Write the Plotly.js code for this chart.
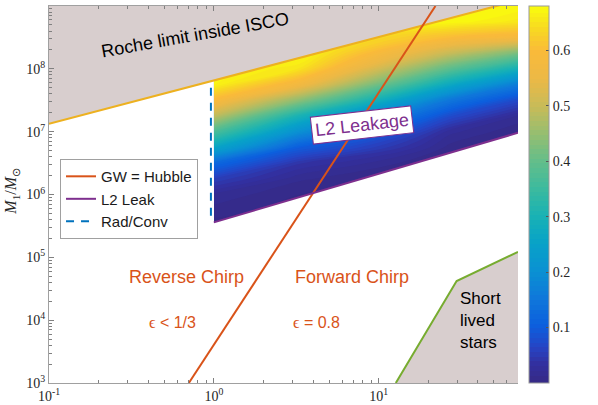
<!DOCTYPE html>
<html>
<head>
<meta charset="utf-8">
<script src="https://cdn.plot.ly/plotly-3.0.1.min.js"></script>
<style>
  html, body { margin: 0; padding: 0; background: #fff; }
  #chart { width: 598px; height: 405px; }
</style>
</head>
<body>
<div id="chart"></div>
<script>
// leakage fraction, on a coarse grid in log10 units
var logPCols = [0, 0.52, 1.43, 1.85];
var logMRows = [5.5, 5.75, 6.0, 6.25, 6.5, 6.75, 7.0, 7.25, 7.5, 7.75, 8.0, 8.25, 8.5, 8.75, 9.0, 9.25];
var leakZ = [
    [0, 0, 0, 0],
    [0.01, 0, 0, 0],
    [0.02, 0.005, 0, 0],
    [0.055, 0.015, 0, 0],
    [0.12, 0.04, 0, 0],
    [0.26, 0.10, 0.01, 0],
    [0.37, 0.20, 0.025, 0.006],
    [0.49, 0.30, 0.075, 0.02],
    [0.59, 0.44, 0.15, 0.07],
    [0.67, 0.57, 0.27, 0.16],
    [0.68, 0.65, 0.39, 0.29],
    [0.68, 0.68, 0.50, 0.42],
    [0.68, 0.68, 0.60, 0.58],
    [0.68, 0.68, 0.675, 0.655],
    [0.68, 0.68, 0.68, 0.675],
    [0.68, 0.68, 0.68, 0.68]
];
var leakTicks = [0.1, 0.2, 0.3, 0.4, 0.5, 0.6];

// axis ticks
var xTickVals = [0.1, 1, 10];
var xTickText = ['10<sup>-1</sup>', '10<sup>0</sup>', '10<sup>1</sup>'];
var yTickVals = [1e3, 1e4, 1e5, 1e6, 1e7, 1e8, 1e9];
var yTickText = ['10<sup>3</sup>', '10<sup>4</sup>', '10<sup>5</sup>', '10<sup>6</sup>',
                 '10<sup>7</sup>', '10<sup>8</sup>', '10<sup>9</sup>'];

// boundary lines
var rocheP = [0.1, 70];
var rocheM = [1.33e7, 1.23e9];
var hubbleP = [0.705, 22.1];
var hubbleM = [1e3, 1e9];
var l2P = [1, 70];
var l2M = [3.6e5, 9.6e6];
var radP = [0.96, 0.96];
var radM = [5.0e7, 3.6e5];
var shortP = [12.7, 29.7, 70];
var shortM = [1e3, 4.2e4, 1.22e5];

// minor tick marks at 2..9 of every decade
function decadeMinors(lo, hi) {
    var out = [];
    for (var d = lo; d < hi; d++)
        for (var k = 2; k <= 9; k++)
            out.push(k * Math.pow(10, d));
    return out;
}
var xMinor = decadeMinors(-1, 2).filter(function(v) { return v <= 70; });
var yMinor = decadeMinors(3, 9);

var zMax = 0.68;
// parula-like, stops given in leakage units
var parulaStops = [
    [0.00, 'rgb(53,42,135)'],
    [0.03, 'rgb(50,48,160)'],
    [0.06, 'rgb(38,68,196)'],
    [0.10, 'rgb(12,95,222)'],
    [0.15, 'rgb(15,120,218)'],
    [0.20, 'rgb(10,145,210)'],
    [0.25, 'rgb(8,162,200)'],
    [0.30, 'rgb(25,178,180)'],
    [0.35, 'rgb(60,186,158)'],
    [0.40, 'rgb(100,190,138)'],
    [0.45, 'rgb(150,190,112)'],
    [0.50, 'rgb(200,187,88)'],
    [0.55, 'rgb(235,185,70)'],
    [0.60, 'rgb(250,186,58)'],
    [0.64, 'rgb(248,215,35)'],
    [0.68, 'rgb(249,251,14)']
];
var colorscale = parulaStops.map(function(s) { return [s[0] / zMax, s[1]]; });

var shade = '#d8cece';
var serif = '"Liberation Serif", "Times New Roman", serif';
var sans = '"Liberation Sans", Arial, sans-serif';
var xRange = [-1, Math.log10(70)];
var yRange = [3, 9];

var data = [
    {
        type: 'contour',
        x: logPCols, y: logMRows, z: leakZ,
        zmin: 0, zmax: zMax, autocontour: false,
        contours: { coloring: 'fill', start: 0.005, end: 0.68, size: 0.0085, showlines: false },
        line: { width: 0 },
        colorscale: colorscale,
        hoverinfo: 'skip',
        showlegend: false,
        colorbar: {
            x: 1.0235, xanchor: 'left', xpad: 0,
            y: 0.5, len: 1, ypad: 0,
            thickness: 20,
            outlinewidth: 1, outlinecolor: '#9a9a9a',
            ticks: 'inside', ticklen: 3, tickcolor: '#555',
            tickvals: leakTicks,
            tickfont: { family: serif, size: 14, color: '#262626' }
        }
    },
    // white masks around the band
    {
        x: [0.1, 1, 1, 0.1], y: [1e3, 1e3, 1e10, 1e10],
        xaxis: 'x2', yaxis: 'y2', mode: 'lines', fill: 'toself',
        fillcolor: '#ffffff', line: { width: 0 }, hoverinfo: 'skip', showlegend: false
    },
    {
        x: [l2P[0], l2P[1], l2P[1], l2P[0]], y: [l2M[0], l2M[1], 1e3, 1e3],
        xaxis: 'x2', yaxis: 'y2', mode: 'lines', fill: 'toself',
        fillcolor: '#ffffff', line: { width: 0 }, hoverinfo: 'skip', showlegend: false
    },
    // shaded regions
    {
        x: [rocheP[0], rocheP[1], rocheP[1], rocheP[0]], y: [rocheM[0], rocheM[1], 1e10, 1e10],
        xaxis: 'x2', yaxis: 'y2', mode: 'lines', fill: 'toself',
        fillcolor: shade, line: { width: 0 }, hoverinfo: 'skip', showlegend: false
    },
    {
        x: shortP.concat([shortP[shortP.length - 1]]), y: shortM.concat([1e3]),
        xaxis: 'x2', yaxis: 'y2', mode: 'lines', fill: 'toself',
        fillcolor: shade, line: { width: 0 }, hoverinfo: 'skip', showlegend: false
    },
    {
        x: rocheP, y: rocheM, xaxis: 'x2', yaxis: 'y2', mode: 'lines',
        line: { color: '#EDB120', width: 2 }, showlegend: false
    },
    {
        x: shortP, y: shortM, xaxis: 'x2', yaxis: 'y2', mode: 'lines',
        line: { color: '#77AC30', width: 2 }, showlegend: false
    },
    {
        name: 'GW = Hubble', x: hubbleP, y: hubbleM, xaxis: 'x2', yaxis: 'y2', mode: 'lines',
        line: { color: '#D95319', width: 2 }
    },
    {
        name: 'L2 Leak', x: l2P, y: l2M, xaxis: 'x2', yaxis: 'y2', mode: 'lines',
        line: { color: '#7E2F8E', width: 2 }
    },
    {
        name: 'Rad/Conv', x: radP, y: radM, xaxis: 'x2', yaxis: 'y2', mode: 'lines',
        line: { color: '#0072BD', width: 2, dash: '8px,7px' }
    }
];

var axisFont = { family: serif, size: 14, color: '#262626' };
var orange = '#D95319';

var layout = {
    width: 598,
    height: 405,
    margin: { l: 49, r: 80, t: 6, b: 22 },
    paper_bgcolor: '#ffffff',
    plot_bgcolor: 'rgba(0,0,0,0)',
    font: { family: sans, size: 14, color: '#000' },
    xaxis: { range: xRange, visible: false, fixedrange: true },
    yaxis: { range: yRange, visible: false, fixedrange: true },
    xaxis2: {
        type: 'log', range: xRange, overlaying: 'x', anchor: 'y2',
        showline: true, linecolor: '#a0a0a0', linewidth: 1, mirror: 'ticks',
        ticks: 'inside', ticklen: 5, tickcolor: '#808080',
        tickmode: 'array', tickvals: xTickVals, ticktext: xTickText,
        showgrid: false, zeroline: false,
        minor: { tickmode: 'array', tickvals: xMinor, ticks: 'inside', ticklen: 3, tickcolor: '#808080', showgrid: false },
        tickfont: axisFont
    },
    yaxis2: {
        type: 'log', range: yRange, overlaying: 'y', anchor: 'x2',
        showline: true, linecolor: '#a0a0a0', linewidth: 1,
        ticks: 'inside', ticklen: 5, tickcolor: '#808080',
        tickmode: 'array', tickvals: yTickVals, ticktext: yTickText,
        showgrid: false, zeroline: false,
        minor: { tickmode: 'array', tickvals: yMinor, ticks: 'inside', ticklen: 3, tickcolor: '#808080', showgrid: false },
        tickfont: axisFont
    },
    showlegend: true,
    legend: {
        x: 0.0235, y: 0.594, xanchor: 'left', yanchor: 'top',
        bgcolor: '#ffffff', bordercolor: '#a0a0a0', borderwidth: 1,
        font: { family: sans, size: 15, color: '#1a1a1a' },
        itemwidth: 30, tracegroupgap: 0
    },
    annotations: [
        {
            text: 'Roche limit inside ISCO', xref: 'x2', yref: 'y2', x: -0.115, y: 8.54,
            showarrow: false, textangle: -10,
            font: { family: sans, size: 18, color: '#000' }
        },
        {
            text: 'L2 Leakage', xref: 'x2', yref: 'y2', x: 0.897, y: 7.11,
            showarrow: false, textangle: -6.5,
            bgcolor: '#ffffff', bordercolor: '#7E2F8E', borderwidth: 1, borderpad: 3,
            font: { family: sans, size: 18, color: '#7E2F8E' }
        },
        {
            text: 'Reverse Chirp', xref: 'x2', yref: 'y2', x: -0.164, y: 4.69,
            showarrow: false, font: { family: sans, size: 18, color: orange }
        },
        {
            text: 'Forward Chirp', xref: 'x2', yref: 'y2', x: 0.836, y: 4.69,
            showarrow: false, font: { family: sans, size: 18, color: orange }
        },
        {
            text: '<span style="font-family:\'Liberation Serif\'">ϵ</span> &lt; 1/3', xref: 'x2', yref: 'y2', x: -0.248, y: 3.97,
            showarrow: false, font: { family: sans, size: 16, color: orange }
        },
        {
            text: '<span style="font-family:\'Liberation Serif\'">ϵ</span> = 0.8', xref: 'x2', yref: 'y2', x: 0.624, y: 3.97,
            showarrow: false, font: { family: sans, size: 16, color: orange }
        },
        {
            text: 'Short<br>lived<br>stars', xref: 'x2', yref: 'y2', x: 1.479, y: 4.0,
            xanchor: 'left', align: 'left', showarrow: false,
            font: { family: sans, size: 17, color: '#000' }
        },
        {
            text: '<i>M</i><sub>1</sub>/<i>M</i><sub>⊙</sub>', xref: 'paper', yref: 'paper',
            x: -0.079, y: 0.51, xanchor: 'center', showarrow: false, textangle: -90,
            font: { family: serif, size: 16, color: '#262626' }
        }
    ]
};

Plotly.newPlot('chart', data, layout, { displayModeBar: false, staticPlot: true });
</script>
</body>
</html>
